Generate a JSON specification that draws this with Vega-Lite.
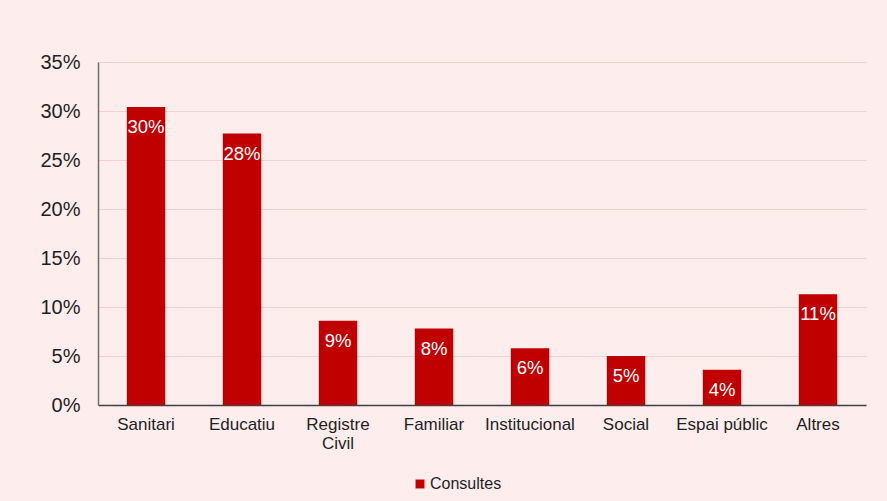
{
  "$schema": "https://vega.github.io/schema/vega-lite/v6.json",
  "width": 768,
  "height": 343,
  "autosize": "none",
  "padding": {"left": 98, "top": 62, "right": 21, "bottom": 96},
  "background": "#fdeded",
  "config": {
    "font": "Liberation Sans",
    "view": {"stroke": null}
  },
  "data": {
    "values": [
      {"categoria": "Sanitari", "valor": 0.304, "serie": "Consultes"},
      {"categoria": "Educatiu", "valor": 0.277, "serie": "Consultes"},
      {"categoria": "Registre Civil", "valor": 0.086, "serie": "Consultes"},
      {"categoria": "Familiar", "valor": 0.078, "serie": "Consultes"},
      {"categoria": "Institucional", "valor": 0.058, "serie": "Consultes"},
      {"categoria": "Social", "valor": 0.050, "serie": "Consultes"},
      {"categoria": "Espai públic", "valor": 0.036, "serie": "Consultes"},
      {"categoria": "Altres", "valor": 0.113, "serie": "Consultes"}
    ]
  },
  "encoding": {
    "x": {
      "field": "categoria",
      "type": "nominal",
      "sort": null,
      "scale": {"paddingInner": 0.6, "paddingOuter": 0.3},
      "axis": {
        "title": null,
        "labelAngle": 0,
        "labelFontSize": 17,
        "labelColor": "#1f1f1f",
        "labelPadding": 11,
        "ticks": false,
        "domainColor": "#404040",
        "domainWidth": 1.5,
        "labelExpr": "datum.label == 'Registre Civil' ? ['Registre', 'Civil'] : datum.label",
        "labelLineHeight": 19
      }
    },
    "y": {
      "field": "valor",
      "type": "quantitative",
      "scale": {"domain": [0, 0.35]},
      "axis": {
        "title": null,
        "format": ".0%",
        "values": [0, 0.05, 0.1, 0.15, 0.2, 0.25, 0.3, 0.35],
        "labelFontSize": 20,
        "labelColor": "#1f1f1f",
        "labelPadding": 18,
        "ticks": false,
        "domainColor": "#707070",
        "domainWidth": 1.5,
        "gridColor": "#f8cfcf",
        "gridWidth": 1
      }
    }
  },
  "layer": [
    {
      "mark": {"type": "bar", "color": "#c00000"},
      "encoding": {
        "color": {
          "field": "serie",
          "type": "nominal",
          "scale": {"range": ["#c00000"]},
          "legend": {
            "orient": "none",
            "legendX": 314,
            "legendY": 414,
            "direction": "horizontal",
            "title": null,
            "symbolType": "square",
            "symbolSize": 80,
            "symbolOffset": 0,
            "labelOffset": 2,
            "labelFontSize": 16,
            "labelColor": "#1f1f1f"
          }
        }
      }
    },
    {
      "mark": {"type": "text", "baseline": "top", "dy": 11, "fontSize": 18.5, "color": "#ffffff"},
      "encoding": {
        "text": {"field": "valor", "type": "quantitative", "format": ".0%"}
      }
    }
  ]
}
